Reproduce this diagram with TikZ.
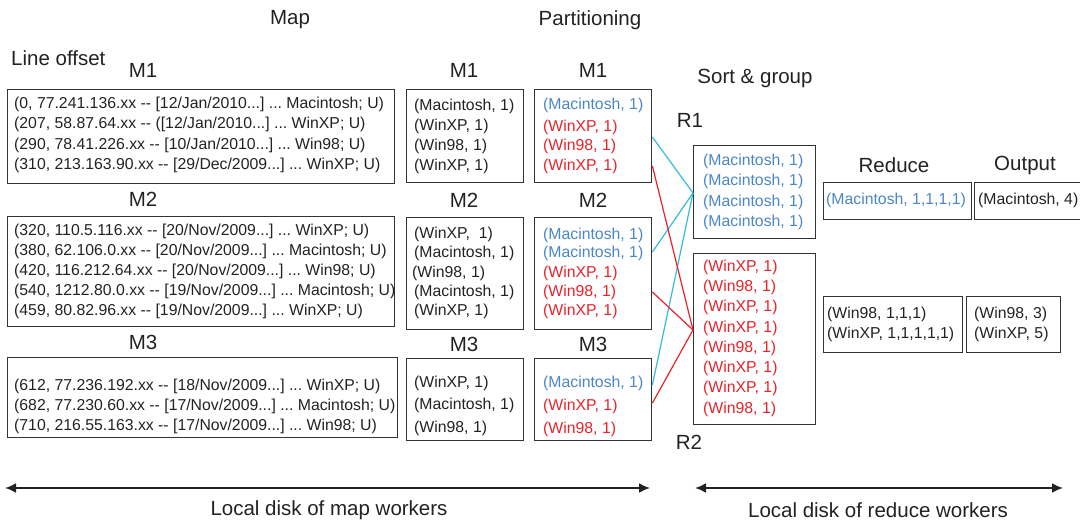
\documentclass[tikz,border=0pt]{standalone}
\usepackage{fontspec}
\setmainfont{Liberation Sans}
\usetikzlibrary{arrows.meta,calc}
\definecolor{txtblue}{HTML}{4A86C8}
\definecolor{txtred}{HTML}{E8232B}
\definecolor{lncyan}{HTML}{35BCD6}
\definecolor{boxgray}{HTML}{333333}
\definecolor{ink}{HTML}{222222}
\frenchspacing
\begin{document}
\begin{tikzpicture}[x=1pt,y=-1pt,
  box/.style={draw=boxgray,line width=1.4pt,anchor=north west,inner sep=0pt},
  dat/.style={anchor=west,inner sep=0pt,font=\fontsize{15.8}{19}\selectfont\frenchspacing,text=ink},
  bdat/.style={dat,text=txtblue},
  rdat/.style={dat,text=txtred},
  hdr/.style={inner sep=0pt,font=\fontsize{20.5}{24}\selectfont,text=ink},
  cyanln/.style={draw=lncyan,line width=1.2pt},
  redln/.style={draw=txtred,line width=1.2pt},
  diskarrow/.style={draw=ink,line width=2pt,{Latex[length=11pt,width=10pt]}-{Latex[length=11pt,width=10pt]}}]
\useasboundingbox (0,0) rectangle (1080,520);

% headings
\node[hdr] (hmap) at (290,20) {Map};
\node[hdr] (hpart) at (590,20) {Partitioning};
\node[hdr,anchor=west] (hline) at (11,58) {Line offset};
\node[hdr] (hsort) at (755,78) {Sort \& group};
\node[hdr] (hr1) at (690,120) {R1};
\node[hdr] (hr2) at (689,442) {R2};
\node[hdr] (hred) at (894,165) {Reduce};
\node[hdr] (hout) at (1025,165) {Output};

\node[hdr] (lm1) at (143,70) {M1};
\node[hdr] (mm1) at (464,70) {M1};
\node[hdr] (pm1) at (593,70) {M1};
\node[hdr] (lm2) at (143,199) {M2};
\node[hdr] (mm2) at (464,200) {M2};
\node[hdr] (pm2) at (593,200) {M2};
\node[hdr] (lm3) at (143,342) {M3};
\node[hdr] (mm3) at (464,344) {M3};
\node[hdr] (pm3) at (593,344) {M3};

% line offset boxes
\node[box,minimum width=387pt,minimum height=94pt] (l1) at (7,89) {};
\node[dat] (l1a) at (14,104) {(0, 77.241.136.xx -{}- [12/Jan/2010...] ... Macintosh; U)};
\node[dat] (l1b) at (14,124.5) {(207, 58.87.64.xx -{}- ([12/Jan/2010...] ... WinXP; U)};
\node[dat] (l1c) at (14,145) {(290, 78.41.226.xx -{}- [10/Jan/2010...] ... Win98; U)};
\node[dat] (l1d) at (14,165.5) {(310, 213.163.90.xx -{}- [29/Dec/2009...] ... WinXP; U)};

\node[box,minimum width=387pt,minimum height=110pt] (l2) at (7,216) {};
\node[dat] (l2a) at (14,231) {(320, 110.5.116.xx -{}- [20/Nov/2009...] ... WinXP; U)};
\node[dat] (l2b) at (14,251) {(380, 62.106.0.xx -{}- [20/Nov/2009...] ... Macintosh; U)};
\node[dat] (l2c) at (14,271) {(420, 116.212.64.xx -{}- [20/Nov/2009...] ... Win98; U)};
\node[dat] (l2d) at (14,291) {(540, 1212.80.0.xx -{}- [19/Nov/2009...] ... Macintosh; U)};
\node[dat] (l2e) at (14,311) {(459, 80.82.96.xx -{}- [19/Nov/2009...] ... WinXP; U)};

\node[box,minimum width=390pt,minimum height=80pt] (l3) at (7,357) {};
\node[dat] (l3a) at (14,386) {(612, 77.236.192.xx -{}- [18/Nov/2009...] ... WinXP; U)};
\node[dat] (l3b) at (14,406) {(682, 77.230.60.xx -{}- [17/Nov/2009...] ... Macintosh; U)};
\node[dat] (l3c) at (14,426) {(710, 216.55.163.xx -{}- [17/Nov/2009...] ... Win98; U)};

% map boxes
\node[box,minimum width=117pt,minimum height=93pt] (m1) at (406,89) {};
\node[dat] (m1a) at (414,106) {(Macintosh, 1)};
\node[dat] (m1b) at (414,126) {(WinXP, 1)};
\node[dat] (m1c) at (414,146) {(Win98, 1)};
\node[dat] (m1d) at (414,166) {(WinXP, 1)};

\node[box,minimum width=117pt,minimum height=112pt] (m2) at (406,217) {};
\node[dat] (m2a) at (414,234) {(WinXP,\ \ 1)};
\node[dat] (m2b) at (414,253) {(Macintosh, 1)};
\node[dat] (m2c) at (412,273) {(Win98, 1)};
\node[dat] (m2d) at (414,292) {(Macintosh, 1)};
\node[dat] (m2e) at (414,311) {(WinXP, 1)};

\node[box,minimum width=117pt,minimum height=82pt] (m3) at (406,358) {};
\node[dat] (m3a) at (414,383) {(WinXP, 1)};
\node[dat] (m3b) at (414,405) {(Macintosh, 1)};
\node[dat] (m3c) at (414,428) {(Win98, 1)};

% partition boxes
\node[box,minimum width=117pt,minimum height=93pt] (p1) at (534,89) {};
\node[bdat] (p1a) at (543,105) {(Macintosh, 1)};
\node[rdat] (p1b) at (543,127) {(WinXP, 1)};
\node[rdat] (p1c) at (543,146) {(Win98, 1)};
\node[rdat] (p1d) at (543,166) {(WinXP, 1)};

\node[box,minimum width=117pt,minimum height=112pt] (p2) at (534,217) {};
\node[bdat] (p2a) at (543,235) {(Macintosh, 1)};
\node[bdat] (p2b) at (543,253) {(Macintosh, 1)};
\node[rdat] (p2c) at (543,273) {(WinXP, 1)};
\node[rdat] (p2d) at (543,292) {(Win98, 1)};
\node[rdat] (p2e) at (543,311) {(WinXP, 1)};

\node[box,minimum width=117pt,minimum height=82pt] (p3) at (534,358) {};
\node[bdat] (p3a) at (543,383) {(Macintosh, 1)};
\node[rdat] (p3b) at (543,406) {(WinXP, 1)};
\node[rdat] (p3c) at (543,429) {(Win98, 1)};

% sort & group boxes
\node[box,minimum width=122pt,minimum height=93pt] (s1) at (693,145) {};
\node[bdat] (s1a) at (703,161) {(Macintosh, 1)};
\node[bdat] (s1b) at (703,181.5) {(Macintosh, 1)};
\node[bdat] (s1c) at (703,202) {(Macintosh, 1)};
\node[bdat] (s1d) at (703,222.5) {(Macintosh, 1)};

\node[box,minimum width=122pt,minimum height=171pt] (s2) at (693,253) {};
\node[rdat] (s2a) at (703,267.5) {(WinXP, 1)};
\node[rdat] (s2b) at (703,287.5) {(Win98, 1)};
\node[rdat] (s2c) at (703,307.5) {(WinXP, 1)};
\node[rdat] (s2d) at (703,328) {(WinXP, 1)};
\node[rdat] (s2e) at (703,348) {(Win98, 1)};
\node[rdat] (s2f) at (703,368.5) {(WinXP, 1)};
\node[rdat] (s2g) at (703,388.5) {(WinXP, 1)};
\node[rdat] (s2h) at (703,409) {(Win98, 1)};

% reduce and output
\node[box,minimum width=148pt,minimum height=37pt] (r1) at (823,182) {};
\node[bdat] (r1a) at (826,200.5) {(Macintosh, 1,1,1,1)};
\node[box,minimum width=110pt,minimum height=37pt] (o1) at (974,182) {};
\node[dat] (o1a) at (978,200.5) {(Macintosh, 4)};

\node[box,minimum width=139pt,minimum height=56pt] (r2) at (823,296) {};
\node[dat] (r2a) at (827,314) {(Win98, 1,1,1)};
\node[dat] (r2b) at (827,334) {(WinXP, 1,1,1,1,1)};
\node[box,minimum width=94pt,minimum height=56pt] (o2) at (966,296) {};
\node[dat] (o2a) at (974,314) {(Win98, 3)};
\node[dat] (o2b) at (974,334) {(WinXP, 5)};

% connectors
\coordinate (p1c1) at ($(p1.north east)+(0,48)$);
\coordinate (p1c2) at ($(p1.north east)+(0,77)$);
\coordinate (p2c1) at ($(p2.north east)+(0,35)$);
\coordinate (p2c2) at ($(p2.north east)+(0,75)$);
\coordinate (p3c1) at ($(p3.north east)+(0,27)$);
\coordinate (p3c2) at ($(p3.north east)+(0,45)$);
\coordinate (s1in) at ($(s1.north west)+(0,48)$);
\coordinate (s2in) at ($(s2.north west)+(0,77)$);
\draw[cyanln] (p1c1) -- (s1in);
\draw[cyanln] (p2c1) -- (s1in);
\draw[cyanln] (p3c1) -- (s1in);
\draw[redln] (p1c2) -- (s2in);
\draw[redln] (p2c2) -- (s2in);
\draw[redln] (p3c2) -- (s2in);

% bottom arrows
\coordinate (dl1) at (5,488);
\coordinate (dl2) at (650,488);
\coordinate (dr1) at (695,488);
\coordinate (dr2) at (1063,488);
\draw[diskarrow] (dl1) -- (dl2);
\draw[diskarrow] (dr1) -- (dr2);
\node[hdr] (ldm) at (329,510) {Local disk of map workers};
\node[hdr] (ldr) at (878,510) {Local disk of reduce workers};
\end{tikzpicture}
\end{document}
